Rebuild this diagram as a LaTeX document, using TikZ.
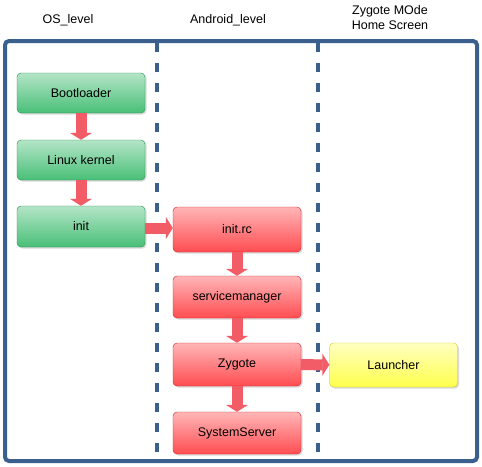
\documentclass[tikz,border=0pt]{standalone}
\usepackage{fontspec}
\setmainfont{Liberation Sans}
\usetikzlibrary{arrows.meta,shadows,positioning}

\definecolor{framecol}{RGB}{59,96,141}
\definecolor{greenbox}{RGB}{40,180,95}
\definecolor{redbox}{RGB}{255,45,50}
\definecolor{yellowbox}{RGB}{255,255,45}
\definecolor{arrowcol}{RGB}{242,92,102}

\tikzset{
 stage/.style={rounded corners=4pt, minimum width=128pt, inner sep=0pt,
  font=\fontsize{12.5}{15}\selectfont,
  drop shadow={shadow xshift=1.5pt, shadow yshift=-1.5pt, opacity=.3}},
 osbox/.style={stage, draw=greenbox!80!black, top color=greenbox!35!white, middle color=greenbox, bottom color=greenbox!85!white},
 andbox/.style={stage, draw=redbox!80!black, top color=redbox!35!white, middle color=redbox, bottom color=redbox!85!white},
 homebox/.style={stage, draw=yellowbox!80!black, top color=yellowbox!30!white, middle color=yellowbox, bottom color=yellowbox!85!white},
 flow/.style={draw=arrowcol, line width=11pt, -{Triangle[length=7pt,width=22pt]}},
 lane/.style={framecol, line width=3.5pt, dash pattern=on 9pt off 11pt},
 header/.style={font=\fontsize{12.5}{15}\selectfont, align=center}
}

\begin{document}
\begin{tikzpicture}[x=1pt,y=-1pt]
 \useasboundingbox (0,0) rectangle (482,466);
 % headers
 \node[header] (hos) at (68,20) {OS\_level};
 \node[header] (hand) at (228,20) {Android\_level};
 \node[header] (hzyg) at (390,18) {Zygote MOde\\Home Screen};

 % frame and lanes
 \draw[framecol, line width=4pt, rounded corners=4pt] (5,41) rectangle (477,461);
 \draw[lane] (157,43) -- (157,459);
 \draw[lane] (318,43) -- (318,459);

 % OS level
 \node[osbox, minimum height=40pt] (boot) at (81,93) {Bootloader};
 \node[osbox, minimum height=40pt] (kernel) at (81,160) {Linux kernel};
 \node[osbox, minimum height=41pt] (init) at (81,226.5) {init};

 % Android level
 \node[andbox, minimum height=45pt] (initrc) at (237,229.5) {init.rc};
 \node[andbox, minimum height=42pt] (svcmgr) at (237,297) {servicemanager};
 \node[andbox, minimum height=43pt] (zygote) at (237,364.5) {Zygote};
 \node[andbox, minimum height=42pt] (sysserver) at (237,433) {SystemServer};

 % home screen
 \node[homebox, minimum height=44pt] (launcher) at (393.5,365) {Launcher};

 % connectors
 \draw[flow] (boot) -- (kernel);
 \draw[flow] (kernel) -- (init);
 \draw[flow] (init.east |- 0,228) -- (initrc.west |- 0,228);
 \draw[flow] (initrc) -- (svcmgr);
 \draw[flow] (svcmgr) -- (zygote);
 \draw[flow] (zygote) -- (sysserver);
 \draw[flow] (zygote) -- (launcher);
\end{tikzpicture}
\end{document}
